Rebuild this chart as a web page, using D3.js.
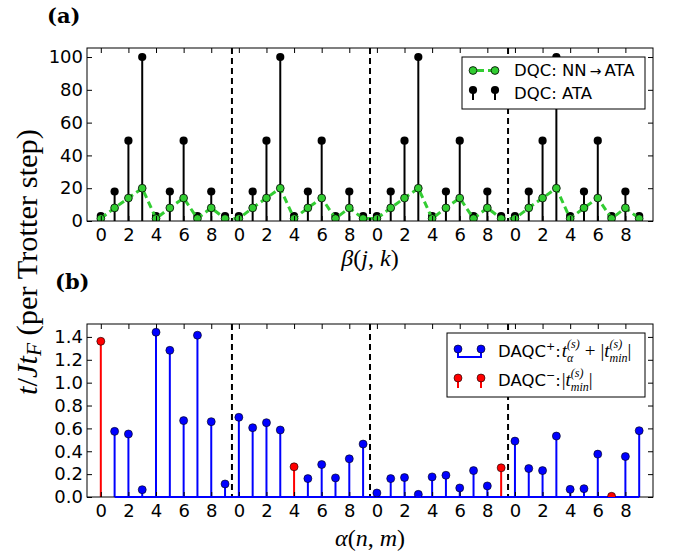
<!DOCTYPE html>
<html>
<head>
<meta charset="utf-8">
<script src="https://cdn.jsdelivr.net/npm/d3@7"></script>
<style>
  body { margin: 0; background: #fff; }
  svg { display: block; }
</style>
</head>
<body>
<svg id="chart" width="674" height="556"></svg>
<script>
// ---- data -------------------------------------------------------------
// (a) cost per pair beta(j,k), four blocks of ten pairs
const ataCost = [
  3, 18, 49, 100, 3, 18, 49, 3, 18, 3,
  3, 18, 49, 100, 3, 18, 49, 3, 18, 3,
  3, 18, 49, 100, 3, 18, 49, 3, 18, 3,
  3, 18, 49, 100, 3, 18, 49, 3, 18, 3
];
const nnToAtaCost = [
  1.5, 8, 14, 20, 1.5, 8, 14, 1.5, 8, 1.5,
  1.5, 8, 14, 20, 1.5, 8, 14, 1.5, 8, 1.5,
  1.5, 8, 14, 20, 1.5, 8, 14, 1.5, 8, 1.5,
  1.5, 8, 14, 20, 1.5, 8, 14, 1.5, 8, 1.5
];
// (b) time per Trotter step for alpha(n,m); null where only DAQC- applies
const daqcPlus = [
  null, 0.574, 0.551, 0.064, 1.441, 1.283, 0.668, 1.415, 0.659, 0.114,
  0.697, 0.606, 0.650, 0.586, null, 0.161, 0.284, 0.167, 0.334, 0.463,
  0.035, 0.161, 0.170, 0.023, 0.176, 0.190, 0.079, 0.231, 0.097, null,
  0.489, 0.249, 0.231, 0.533, 0.067, 0.073, 0.375, null, 0.354, 0.580
];
const daqcMinusIndex = [0, 14, 29, 37];
const daqcMinusValue = [1.362, 0.264, 0.255, 0.006];

// block separators and ticks
const separators = [9.5, 19.5, 29.5];
const xTickPos = [0, 2, 4, 6, 8, 10, 12, 14, 16, 18, 20, 22, 24, 26, 28, 30, 32, 34, 36, 38];
const xTickLabels = ["0", "2", "4", "6", "8", "0", "2", "4", "6", "8",
                     "0", "2", "4", "6", "8", "0", "2", "4", "6", "8"];
const yTicksA = [0, 20, 40, 60, 80, 100];
const yTicksB = [0, 0.2, 0.4, 0.6, 0.8, 1.0, 1.2, 1.4];

// ---- layout -----------------------------------------------------------
const svg = d3.select("#chart");
const L = 87, R = 653;
const panelA = { top: 48, bottom: 221 };
const panelB = { top: 324, bottom: 497 };
const SANS = "'DejaVu Sans', sans-serif";
const SERIF = "'DejaVu Serif', 'Liberation Serif', serif";
const MATH = "'Liberation Serif', 'DejaVu Serif', serif";
const GREEN = "#32cd32";

const x = d3.scaleLinear().domain([-1, 40]).range([L, R]);
const yA = d3.scaleLinear().domain([0, 105.5]).range([panelA.bottom, panelA.top]);
const yB = d3.scaleLinear().domain([0, 1.513]).range([panelB.bottom, panelB.top]);

const defs = svg.append("defs");
function clip(id, p) {
  defs.append("clipPath").attr("id", id).append("rect")
    .attr("x", L).attr("y", p.top).attr("width", R - L).attr("height", p.bottom - p.top);
}
clip("clipA", panelA);
clip("clipB", panelB);

// axes frame with inward ticks on every side, labels on left/bottom
function drawAxes(p, y, yTicks, yFmt) {
  const g = svg.append("g");
  const tl = 5;
  const bottomAxis = d3.axisBottom(x).tickValues(xTickPos)
    .tickFormat((d, i) => xTickLabels[i]).tickSizeInner(-tl).tickSizeOuter(0).tickPadding(7);
  const topAxis = d3.axisTop(x).tickValues(xTickPos).tickFormat("")
    .tickSizeInner(-tl).tickSizeOuter(0);
  const leftAxis = d3.axisLeft(y).tickValues(yTicks).tickFormat(yFmt)
    .tickSizeInner(-tl).tickSizeOuter(0).tickPadding(4);
  const rightAxis = d3.axisRight(y).tickValues(yTicks).tickFormat("")
    .tickSizeInner(-tl).tickSizeOuter(0);
  g.append("g").attr("transform", `translate(0,${p.bottom})`).call(bottomAxis);
  g.append("g").attr("transform", `translate(0,${p.top})`).call(topAxis);
  g.append("g").attr("transform", `translate(${L},0)`).call(leftAxis);
  g.append("g").attr("transform", `translate(${R},0)`).call(rightAxis);
  g.selectAll(".domain").remove();
  g.selectAll(".tick line").attr("stroke", "#000").attr("stroke-width", 1);
  g.selectAll(".tick text").attr("font-family", SANS).attr("font-size", 18).attr("fill", "#000");
  g.append("rect").attr("x", L).attr("y", p.top).attr("width", R - L)
    .attr("height", p.bottom - p.top).attr("fill", "none").attr("stroke", "#000").attr("stroke-width", 1);
}

function drawSeparators(p) {
  svg.append("g").selectAll("line").data(separators).join("line")
    .attr("x1", d => x(d)).attr("x2", d => x(d))
    .attr("y1", p.top).attr("y2", p.bottom)
    .attr("stroke", "#000").attr("stroke-width", 2).attr("stroke-dasharray", "6,4");
}

// ---- panel (a) --------------------------------------------------------
const gA = svg.append("g").attr("clip-path", "url(#clipA)");
const ataData = ataCost.map((v, i) => ({ i, v }));
const nnData = nnToAtaCost.map((v, i) => ({ i, v }));

gA.selectAll(".stemA").data(ataData).join("line")
  .attr("x1", d => x(d.i)).attr("x2", d => x(d.i))
  .attr("y1", yA(0)).attr("y2", d => yA(d.v))
  .attr("stroke", "#000").attr("stroke-width", 2);
gA.selectAll(".dotA").data(ataData).join("circle")
  .attr("cx", d => x(d.i)).attr("cy", d => yA(d.v)).attr("r", 4.1).attr("fill", "#000");

gA.append("path").datum(nnData)
  .attr("d", d3.line().x(d => x(d.i)).y(d => yA(d.v)))
  .attr("fill", "none").attr("stroke", GREEN).attr("stroke-width", 3)
  .attr("stroke-dasharray", "7,4");
gA.selectAll(".dotN").data(nnData).join("circle")
  .attr("cx", d => x(d.i)).attr("cy", d => yA(d.v)).attr("r", 3.9)
  .attr("fill", GREEN).attr("stroke", "#000").attr("stroke-width", 0.8);

drawSeparators(panelA);
drawAxes(panelA, yA, yTicksA, d3.format("d"));

// ---- panel (b) --------------------------------------------------------
const gB = svg.append("g").attr("clip-path", "url(#clipB)");
const plusData = daqcPlus.map((v, i) => ({ i, v })).filter(d => d.v !== null);
const minusData = daqcMinusIndex.map((i, k) => ({ i, v: daqcMinusValue[k] }));

gB.selectAll(".stemP").data(plusData).join("line")
  .attr("x1", d => x(d.i)).attr("x2", d => x(d.i))
  .attr("y1", yB(0)).attr("y2", d => yB(d.v))
  .attr("stroke", "#0000ff").attr("stroke-width", 2);
gB.selectAll(".stemM").data(minusData).join("line")
  .attr("x1", d => x(d.i)).attr("x2", d => x(d.i))
  .attr("y1", yB(0)).attr("y2", d => yB(d.v))
  .attr("stroke", "#ff0000").attr("stroke-width", 2);

drawSeparators(panelB);
drawAxes(panelB, yB, yTicksB, d3.format(".1f"));

// blue baseline spans the DAQC+ points
svg.append("line")
  .attr("x1", x(d3.min(plusData, d => d.i))).attr("x2", x(d3.max(plusData, d => d.i)))
  .attr("y1", yB(0)).attr("y2", yB(0))
  .attr("stroke", "#0000ff").attr("stroke-width", 2);

const gBm = svg.append("g").attr("clip-path", "url(#clipB)");
gBm.selectAll(".dotP").data(plusData).join("circle")
  .attr("cx", d => x(d.i)).attr("cy", d => yB(d.v)).attr("r", 4)
  .attr("fill", "#0000ff").attr("stroke", "#000").attr("stroke-width", 0.6);
gBm.selectAll(".dotM").data(minusData).join("circle")
  .attr("cx", d => x(d.i)).attr("cy", d => yB(d.v)).attr("r", 4)
  .attr("fill", "#ff0000").attr("stroke", "#000").attr("stroke-width", 0.6);

// ---- rich text helper (math with sub/superscripts) ----------------------
function rich(g, x0, y0, parts) {
  let cx = x0, scriptStart = x0;
  parts.forEach(p => {
    const start = p.stack ? scriptStart : cx;
    const el = g.append("text").attr("x", start).attr("y", y0 + (p.dy || 0))
      .attr("font-family", p.fam || SANS).attr("font-size", p.size || 16)
      .attr("font-style", p.italic ? "italic" : "normal").attr("fill", "#000")
      .text(p.t);
    const w = el.node().getComputedTextLength();
    if (p.stack) cx = Math.max(cx, start + w + (p.gap || 0));
    else { scriptStart = start; cx = start + w + (p.gap || 0); }
  });
  return cx;
}

// ---- legend (a) -------------------------------------------------------
const legA = svg.append("g");
legA.append("rect").attr("x", 462).attr("y", 57).attr("width", 183).attr("height", 52)
  .attr("fill", "#fff").attr("stroke", "#000").attr("stroke-width", 1);
legA.append("line").attr("x1", 473).attr("x2", 495).attr("y1", 70.5).attr("y2", 70.5)
  .attr("stroke", GREEN).attr("stroke-width", 3).attr("stroke-dasharray", "7,4")
  .attr("stroke-dashoffset", -4);
[473, 495].forEach(cx => {
  legA.append("circle").attr("cx", cx).attr("cy", 70.5).attr("r", 3.9)
    .attr("fill", GREEN).attr("stroke", "#000").attr("stroke-width", 0.8);
  legA.append("line").attr("x1", cx).attr("x2", cx).attr("y1", 90).attr("y2", 100)
    .attr("stroke", "#000").attr("stroke-width", 2);
  legA.append("circle").attr("cx", cx).attr("cy", 90).attr("r", 4.1).attr("fill", "#000");
});
rich(legA, 514, 76, [
  { t: "DQC: NN", size: 16.5, gap: 3 },
  { t: "→", fam: SANS, size: 14, gap: 3 },
  { t: "ATA", size: 16.5 }
]);
rich(legA, 514, 99, [{ t: "DQC: ATA", size: 16.5 }]);

// ---- legend (b) -------------------------------------------------------
const legB = svg.append("g");
legB.append("rect").attr("x", 447).attr("y", 333).attr("width", 198).attr("height", 64)
  .attr("fill", "#fff").attr("stroke", "#000").attr("stroke-width", 1);
legB.append("path").attr("d", `M458,349 V357 H481 V349`)
  .attr("fill", "none").attr("stroke", "#0000ff").attr("stroke-width", 2);
[458, 481].forEach(cx => {
  legB.append("circle").attr("cx", cx).attr("cy", 349).attr("r", 4)
    .attr("fill", "#0000ff").attr("stroke", "#000").attr("stroke-width", 0.6);
  legB.append("line").attr("x1", cx).attr("x2", cx).attr("y1", 378).attr("y2", 388)
    .attr("stroke", "#ff0000").attr("stroke-width", 2);
  legB.append("circle").attr("cx", cx).attr("cy", 378).attr("r", 4)
    .attr("fill", "#ff0000").attr("stroke", "#000").attr("stroke-width", 0.6);
});
const M = MATH;
rich(legB, 498, 357, [
  { t: "DAQC", size: 16.5 },
  { t: "+", size: 11, dy: -7 },
  { t: ":", size: 16.5, gap: 1 },
  { t: "t", fam: M, italic: true, size: 19 },
  { t: "α", fam: M, italic: true, size: 12, dy: 5 },
  { t: "(s)", fam: M, italic: true, size: 12, dy: -9, stack: true, gap: 5 },
  { t: "+", fam: M, size: 19, gap: 5 },
  { t: "|", fam: M, size: 19 },
  { t: "t", fam: M, italic: true, size: 19 },
  { t: "min", fam: M, italic: true, size: 12, dy: 5 },
  { t: "(s)", fam: M, italic: true, size: 12, dy: -9, stack: true },
  { t: "|", fam: M, size: 19 }
]);
rich(legB, 498, 386, [
  { t: "DAQC", size: 16.5 },
  { t: "−", size: 11, dy: -7 },
  { t: ":", size: 16.5, gap: 1 },
  { t: "|", fam: M, size: 19 },
  { t: "t", fam: M, italic: true, size: 19 },
  { t: "min", fam: M, italic: true, size: 12, dy: 5 },
  { t: "(s)", fam: M, italic: true, size: 12, dy: -9, stack: true },
  { t: "|", fam: M, size: 19 }
]);

// ---- panel labels and axis titles ---------------------------------------
svg.append("text").attr("x", 47).attr("y", 23).attr("font-family", SERIF)
  .attr("font-weight", "bold").attr("font-size", 21).text("(a)");
svg.append("text").attr("x", 55).attr("y", 289).attr("font-family", SERIF)
  .attr("font-weight", "bold").attr("font-size", 21).text("(b)");

function xTitle(yPos, sym, a, b) {
  const t = svg.append("text").attr("x", (L + R) / 2).attr("y", yPos)
    .attr("text-anchor", "middle").attr("font-family", MATH).attr("font-size", 24);
  t.append("tspan").attr("font-style", "italic").text(sym);
  t.append("tspan").text("(");
  t.append("tspan").attr("font-style", "italic").text(a);
  t.append("tspan").text(", ");
  t.append("tspan").attr("font-style", "italic").text(b);
  t.append("tspan").text(")");
}
xTitle(266, "β", "j", "k");
xTitle(546, "α", "n", "m");

const yTitle = svg.append("text")
  .attr("transform", "translate(37,262) rotate(-90)")
  .attr("text-anchor", "middle").attr("font-family", MATH).attr("font-size", 23);
yTitle.append("tspan").attr("font-style", "italic").text("t");
yTitle.append("tspan").text("/");
yTitle.append("tspan").attr("font-style", "italic").text("Jt");
yTitle.append("tspan").attr("font-style", "italic").attr("font-size", 16).attr("dy", 4).text("F");
yTitle.append("tspan").attr("dy", -4).text(" (per Trotter step)");
// fit the title to the height spanned by both panels
const yLen = yTitle.node().getComputedTextLength();
const fs = 23 * 266 / yLen;
yTitle.attr("font-size", fs);
yTitle.selectAll("tspan").filter(function () { return this.getAttribute("font-size"); })
  .attr("font-size", fs * 0.7);
</script>
</body>
</html>
